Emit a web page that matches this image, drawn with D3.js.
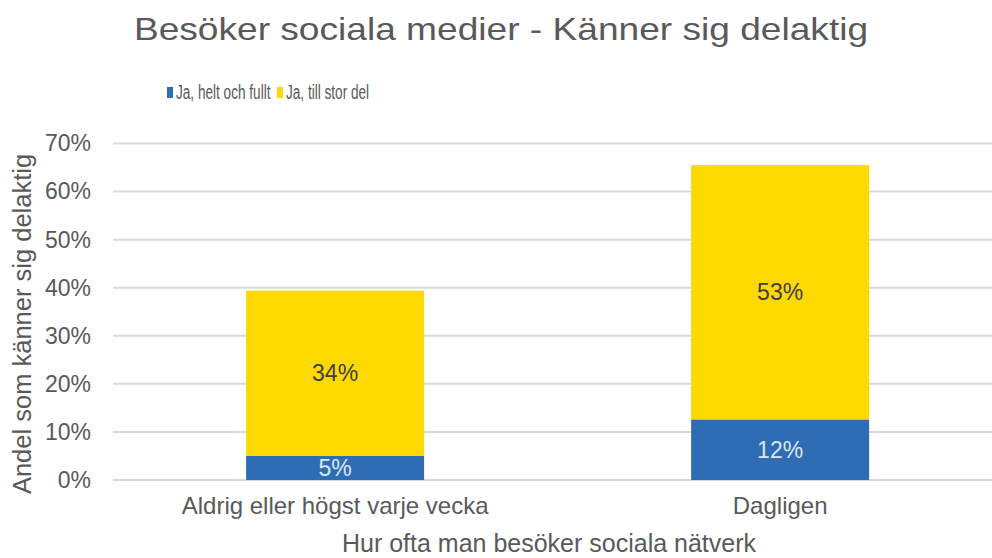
<!DOCTYPE html>
<html>
<head>
<meta charset="utf-8">
<script src="https://cdn.jsdelivr.net/npm/d3@7"></script>
<style>
  body { margin: 0; background: #fff; }
  svg { display: block; font-family: "Liberation Sans", Arial, sans-serif; }
</style>
</head>
<body>
<svg id="chart" width="992" height="558"></svg>
<script>
const categories = ["Aldrig eller högst varje vecka", "Dagligen"];
const seriesNames = ["Ja, helt och fullt", "Ja, till stor del"];
const fullyValues = [5.0, 12.6];
const largelyValues = [34.4, 52.9];
const labelFully = ["5%", "12%"];
const labelLargely = ["34%", "53%"];
const yTicks = [0, 10, 20, 30, 40, 50, 60, 70];
const colors = ["#2E6DB4", "#FDD900"];

const width = 992;
const height = 558;
const margin = { top: 143.5, right: 0, bottom: 78, left: 113 };
const innerWidth = width - margin.left - margin.right;
const innerHeight = height - margin.top - margin.bottom;

const svg = d3.select("#chart");

const table = categories.map((c, i) => ({
  category: c,
  fully: fullyValues[i],
  largely: largelyValues[i],
  labels: [labelFully[i], labelLargely[i]]
}));

const stack = d3.stack().keys(["fully", "largely"]);
const series = stack(table);

const xScale = d3.scaleBand()
  .domain(categories)
  .range([0, innerWidth])
  .paddingInner(0.6)
  .paddingOuter(0.2876)
  .align(0.52);

const yScale = d3.scaleLinear()
  .domain([0, 70])
  .range([innerHeight, 0]);

// Title (the reference type is stretched wide)
svg.append("text")
  .attr("transform", "translate(501, 40) scale(1.16, 1)")
  .attr("text-anchor", "middle")
  .attr("fill", "#595959")
  .style("font-size", "32px")
  .text("Besöker sociala medier - Känner sig delaktig");

// Legend (narrow type)
const legendX = [167, 277];
seriesNames.forEach((name, i) => {
  const g = svg.append("g").attr("transform", `translate(${legendX[i]}, 99)`);
  g.append("rect")
    .attr("x", 0)
    .attr("y", -12)
    .attr("width", 6)
    .attr("height", 11)
    .attr("fill", colors[i]);
  g.append("text")
    .attr("transform", "translate(9, 0) scale(0.68, 1)")
    .attr("fill", "#595959")
    .style("font-size", "20px")
    .text(name);
});

const innerChart = svg.append("g")
  .attr("transform", `translate(${margin.left}, ${margin.top})`);

// Gridlines
innerChart.selectAll(".grid")
  .data(yTicks)
  .join("line")
    .attr("class", "grid")
    .attr("x1", 0)
    .attr("x2", innerWidth)
    .attr("y1", d => yScale(d))
    .attr("y2", d => yScale(d))
    .attr("stroke", "#d9d9d9")
    .attr("stroke-width", 2);

// Y axis
const yAxis = d3.axisLeft(yScale)
  .tickValues(yTicks)
  .tickFormat(d => `${d}%`)
  .tickSize(0)
  .tickPadding(22);
innerChart.append("g")
  .call(yAxis)
  .call(g => g.select(".domain").remove())
  .call(g => g.selectAll("text")
    .attr("fill", "#595959")
    .style("font-family", "Liberation Sans, Arial, sans-serif")
    .style("font-size", "23px"));

// X axis
const xAxis = d3.axisBottom(xScale)
  .tickSize(0)
  .tickPadding(17);
innerChart.append("g")
  .attr("transform", `translate(0, ${innerHeight})`)
  .call(xAxis)
  .call(g => g.select(".domain").remove())
  .call(g => g.selectAll("text")
    .attr("fill", "#595959")
    .style("font-family", "Liberation Sans, Arial, sans-serif")
    .style("font-size", "24px"));

// Bars
const layers = innerChart.selectAll(".layer")
  .data(series)
  .join("g")
    .attr("class", "layer")
    .attr("fill", (d, i) => colors[i]);

layers.selectAll("rect")
  .data(d => d)
  .join("rect")
    .attr("x", d => xScale(d.data.category))
    .attr("y", d => yScale(d[1]))
    .attr("width", xScale.bandwidth())
    .attr("height", d => yScale(d[0]) - yScale(d[1]));

// Data labels
series.forEach((s, si) => {
  innerChart.selectAll(`.label-${si}`)
    .data(s)
    .join("text")
      .attr("class", `label-${si}`)
      .attr("x", d => xScale(d.data.category) + xScale.bandwidth() / 2)
      .attr("y", d => (yScale(d[0]) + yScale(d[1])) / 2 + 8)
      .attr("text-anchor", "middle")
      .attr("fill", si === 0 ? "#dce6f2" : "#404040")
      .style("font-size", "23px")
      .text(d => d.data.labels[si]);
});

// Axis titles
svg.append("text")
  .attr("transform", "translate(31, 324) rotate(-90)")
  .attr("text-anchor", "middle")
  .attr("fill", "#595959")
  .style("font-size", "25.5px")
  .text("Andel som känner sig delaktig");

svg.append("text")
  .attr("x", 549)
  .attr("y", 552)
  .attr("text-anchor", "middle")
  .attr("fill", "#595959")
  .style("font-size", "25px")
  .text("Hur ofta man besöker sociala nätverk");
</script>
</body>
</html>
